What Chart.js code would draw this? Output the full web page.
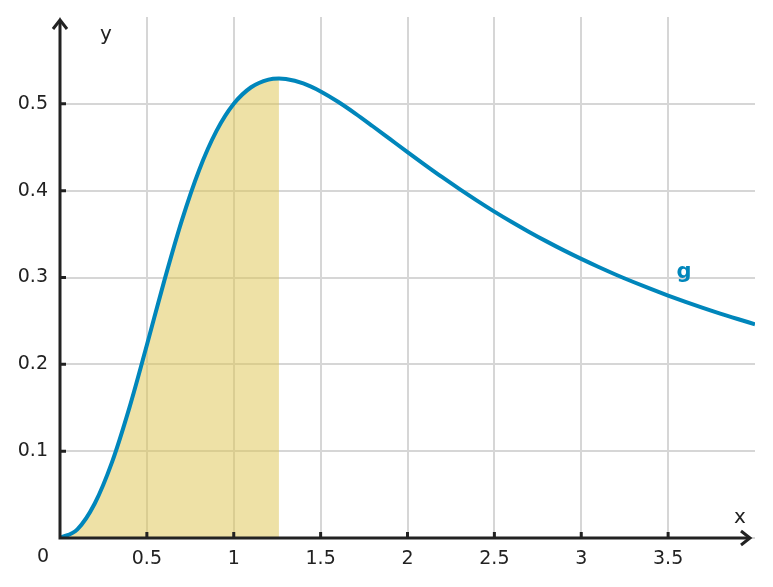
<!DOCTYPE html>
<html lang="en">
<head>
    <meta charset="UTF-8">
    <title>g(x)</title>
    <script src="https://cdn.jsdelivr.net/npm/chart.js"></script>
    <style>
        html, body { margin: 0; padding: 0; background: #fff; }
        #wrap { width: 773px; height: 587px; }
    </style>
</head>
<body>
<div id="wrap"><canvas id="plot"></canvas></div>
<script>
    // values
    const xValues = [0, 0.1, 0.2, 0.3, 0.4, 0.5, 0.6, 0.7, 0.8, 0.9, 1.0,
        1.1, 1.2, 1.26, 1.3, 1.4, 1.5, 1.6, 1.7, 1.8, 1.9, 2.0,
        2.1, 2.2, 2.3, 2.4, 2.5, 2.6, 2.7, 2.8, 2.9, 3.0,
        3.1, 3.2, 3.3, 3.4, 3.5, 3.6, 3.7, 3.8, 3.9, 4.0];
    const gValues = [0, 0.0100, 0.0397, 0.0876, 0.1504, 0.2222, 0.2961, 0.3649, 0.4233, 0.4685, 0.5000,
        0.5191, 0.5279, 0.5291, 0.5286, 0.5235, 0.5143, 0.5024, 0.4888, 0.4742, 0.4593, 0.4444,
        0.4298, 0.4155, 0.4018, 0.3886, 0.3759, 0.3639, 0.3525, 0.3416, 0.3312, 0.3214,
        0.3121, 0.3032, 0.2948, 0.2868, 0.2792, 0.2719, 0.2650, 0.2584, 0.2522, 0.2462];
    const shadeEnd = 1.26;
    const xTicks = [0.5, 1, 1.5, 2, 2.5, 3, 3.5];
    const yTicks = [0.1, 0.2, 0.3, 0.4, 0.5];

    const curve = xValues.map((x, i) => ({ x: x, y: gValues[i] }));
    const shaded = curve.filter(p => p.x <= shadeEnd);

    const ink = '#222222';
    const blue = '#0086bb';
    const tickFont = { family: 'DejaVu Sans', size: 19 };

    // axes with arrows, small tick marks and free labels
    const axesPlugin = {
        id: 'axes',
        afterDatasetsDraw(chart) {
            const ctx = chart.ctx;
            const xs = chart.scales.x, ys = chart.scales.y;
            const x0 = xs.getPixelForValue(0), y0 = ys.getPixelForValue(0);
            const xEnd = xs.right - 5, yEnd = ys.top + 3;
            ctx.save();
            ctx.strokeStyle = ink;
            ctx.lineWidth = 3;
            ctx.lineCap = 'butt';
            ctx.beginPath();
            ctx.moveTo(x0, y0);
            ctx.lineTo(xEnd, y0);
            ctx.moveTo(x0, y0 + 1.5);
            ctx.lineTo(x0, yEnd);
            ctx.stroke();
            ctx.lineJoin = 'miter';
            ctx.beginPath();
            ctx.moveTo(xEnd - 9, y0 - 7);
            ctx.lineTo(xEnd, y0);
            ctx.lineTo(xEnd - 9, y0 + 7);
            ctx.moveTo(x0 - 7, yEnd + 9);
            ctx.lineTo(x0, yEnd);
            ctx.lineTo(x0 + 7, yEnd + 9);
            ctx.stroke();
            ctx.beginPath();
            xTicks.forEach(v => {
                const px = xs.getPixelForValue(v);
                ctx.moveTo(px, y0);
                ctx.lineTo(px, y0 - 6);
            });
            yTicks.forEach(v => {
                const py = ys.getPixelForValue(v);
                ctx.moveTo(x0, py);
                ctx.lineTo(x0 + 6, py);
            });
            ctx.stroke();

            ctx.fillStyle = ink;
            ctx.font = '20px "DejaVu Sans"';
            ctx.textAlign = 'center';
            ctx.textBaseline = 'middle';
            ctx.fillText('x', 740, 518);
            ctx.fillText('y', 106, 35);
            ctx.font = '19px "DejaVu Sans"';
            ctx.fillText('0', 43, 557);
            ctx.fillStyle = blue;
            ctx.font = 'bold 21px "DejaVu Sans"';
            ctx.fillText('g', 684, 273);
            ctx.restore();
        }
    };

    new Chart(document.getElementById('plot'), {
        type: 'line',
        data: {
            datasets: [{
                label: 'g',
                data: curve,
                borderColor: blue,
                borderWidth: 4,
                pointRadius: 0,
                cubicInterpolationMode: 'monotone',
                fill: false
            }, {
                label: 'area',
                data: shaded,
                borderWidth: 0,
                borderColor: 'rgba(0,0,0,0)',
                backgroundColor: 'rgba(222,196,78,0.5)',
                pointRadius: 0,
                cubicInterpolationMode: 'monotone',
                fill: 'origin'
            }]
        },
        options: {
            responsive: true,
            maintainAspectRatio: false,
            animation: false,
            layout: { padding: { top: 17, right: 18, left: 0, bottom: 0 } },
            plugins: { legend: { display: false }, tooltip: { enabled: false } },
            scales: {
                x: {
                    type: 'linear',
                    min: 0,
                    max: 4,
                    border: { display: false },
                    afterFit: s => {
                        s.height = 49;
                        s.paddingLeft = 0;
                        s.paddingRight = 0;
                    },
                    afterBuildTicks: s => {
                        s.ticks = [0].concat(xTicks, [4]).map(v => ({ value: v }));
                    },
                    grid: {
                        color: c => (c.tick && c.tick.value === 4) ? 'rgba(0,0,0,0)' : '#d6d6d6',
                        lineWidth: 2,
                        drawTicks: false
                    },
                    ticks: {
                        font: tickFont,
                        color: ink,
                        padding: 10,
                        maxRotation: 0,
                        callback: v => (v === 0 || v === 4) ? '' : String(v)
                    }
                },
                y: {
                    min: 0,
                    max: 0.6,
                    border: { display: false },
                    afterFit: s => {
                        s.width = 60;
                        s.paddingTop = 0;
                        s.paddingBottom = 0;
                    },
                    afterBuildTicks: s => {
                        s.ticks = [0].concat(yTicks, [0.6]).map(v => ({ value: v }));
                    },
                    grid: {
                        color: c => (c.tick && c.tick.value === 0.6) ? 'rgba(0,0,0,0)' : '#d6d6d6',
                        lineWidth: 2,
                        drawTicks: false
                    },
                    ticks: {
                        font: tickFont,
                        color: ink,
                        padding: 12,
                        callback: v => (v === 0 || v === 0.6) ? '' : String(v)
                    }
                }
            }
        },
        plugins: [axesPlugin]
    });
</script>
</body>
</html>
